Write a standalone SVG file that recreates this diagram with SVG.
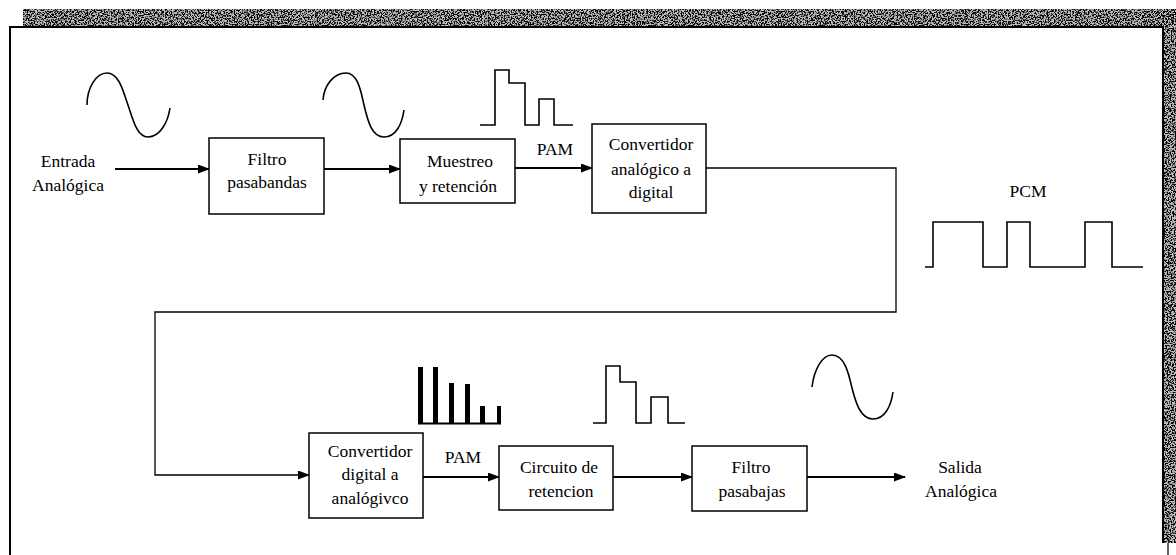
<svg xmlns="http://www.w3.org/2000/svg" width="1176" height="555" viewBox="0 0 1176 555" font-family="Liberation Serif, Times New Roman, serif">
<style>
.box{fill:#fff;stroke:#000;stroke-width:1.5}
.lbl{font-size:17.5px;fill:#000;text-anchor:middle}
.wire{fill:none;stroke:#000;stroke-width:2}
.thin{fill:none;stroke:#000;stroke-width:1.3}
.wave{fill:none;stroke:#000;stroke-width:1.6;stroke-linejoin:miter}
</style>
<defs>
<marker id="arr" markerUnits="userSpaceOnUse" markerWidth="12" markerHeight="10" refX="11" refY="4.5" orient="auto">
<path d="M0,0 L12,4.5 L0,9 z" fill="#000"/>
</marker>
<filter id="noise" x="0" y="0" width="100%" height="100%">
<feTurbulence type="fractalNoise" baseFrequency="0.7" numOctaves="2" seed="5" result="t"/>
<feColorMatrix in="t" type="matrix" values="0 0 0 0 0  0 0 0 0 0  0 0 0 0 0  0 0 0 -7 3.9" result="dots"/>
<feComposite in="dots" in2="SourceGraphic" operator="in"/>
</filter>
</defs>
<rect width="1176" height="555" fill="#fff"/>
<g id="frame">
<rect x="23" y="9" width="1153" height="17" fill="#bdbdbd"/>
<rect x="1163" y="9" width="13" height="534" fill="#bdbdbd"/>
<rect x="23" y="9" width="1153" height="17" fill="#111" filter="url(#noise)"/>
<rect x="1163" y="9" width="13" height="534" fill="#111" filter="url(#noise)"/>
<path d="M10,555 L10,27 L1163,27 L1163,543" fill="none" stroke="#000" stroke-width="2"/>
<path d="M1168,543 L1168,555" fill="none" stroke="#000" stroke-width="1.2"/>
</g>
<g id="connectors">
<line class="wire" x1="115" y1="169" x2="209" y2="169" marker-end="url(#arr)"/>
<line class="wire" x1="324" y1="169" x2="400" y2="169" marker-end="url(#arr)"/>
<line class="wire" x1="515" y1="168" x2="592" y2="168" marker-end="url(#arr)"/>
<path class="thin" d="M706,168 L896,168 L896,312 L155,312 L155,475 L309,475" marker-end="url(#arr)"/>
<line class="wire" x1="423" y1="477" x2="499" y2="477" marker-end="url(#arr)"/>
<line class="wire" x1="613" y1="477" x2="692" y2="477" marker-end="url(#arr)"/>
<line class="wire" x1="807" y1="477" x2="905" y2="477" marker-end="url(#arr)"/>
</g>
<g id="entrada">
<text class="lbl" x="68" y="167">Entrada</text>
<text class="lbl" x="68" y="191">Analógica</text>
</g>
<g id="filtro-pasabandas">
<rect class="box" x="209" y="138" width="115" height="76"/>
<text class="lbl" x="267" y="165">Filtro</text>
<text class="lbl" x="267" y="188">pasabandas</text>
</g>
<g id="muestreo">
<rect class="box" x="400" y="139" width="115" height="64"/>
<text class="lbl" x="460" y="167">Muestreo</text>
<text class="lbl" x="458" y="192">y  retención</text>
</g>
<g id="adc">
<rect class="box" x="592" y="124" width="114" height="89"/>
<text class="lbl" x="651" y="150">Convertidor</text>
<text class="lbl" x="651" y="175">analógico a</text>
<text class="lbl" x="651" y="198">digital</text>
</g>
<g id="dac">
<rect class="box" x="309" y="433" width="114" height="85"/>
<text class="lbl" x="370" y="457">Convertidor</text>
<text class="lbl" x="370" y="480">digital a</text>
<text class="lbl" x="370" y="504">analógivco</text>
</g>
<g id="circuito">
<rect class="box" x="499" y="446" width="114" height="64"/>
<text class="lbl" x="559" y="473">Circuito de</text>
<text class="lbl" x="561" y="497">retencion</text>
</g>
<g id="filtro-pasabajas">
<rect class="box" x="692" y="446" width="115" height="65"/>
<text class="lbl" x="751" y="473">Filtro</text>
<text class="lbl" x="752" y="497">pasabajas</text>
</g>
<g id="salida">
<text class="lbl" x="960" y="473">Salida</text>
<text class="lbl" x="961" y="497">Analógica</text>
</g>
<g id="labels">
<text class="lbl" x="555" y="155">PAM</text>
<text class="lbl" x="463" y="463">PAM</text>
<text class="lbl" x="1028" y="197">PCM</text>
</g>
<g id="waveforms">
<path class="wave" d="M87,105 C87,88 96,73 107,73 C120,73 124,95 128,105 C133,120 137,137 148,137 C160,137 168,122 170,108"/>
<path class="wave" d="M323,100 C324,85 334,73 346,73 C358,73 361,92 364,105 C368,122 372,137 384,137 C396,137 402,124 404,110"/>
<path class="wave" d="M812,387 C814,370 822,355 832,355 C845,355 849,375 852,388 C856,404 861,419 873,419 C885,419 891,406 893,392"/>
<path class="wave" d="M480,125 L495,125 L495,70 L509,70 L509,83 L525,83 L525,125 L539,125 L539,99 L554,99 L554,125 L573,125"/>
<path class="wave" d="M593,423 L606,423 L606,366 L620,366 L620,382 L636,382 L636,423 L651,423 L651,397 L668,397 L668,423 L685,423"/>
<path class="wave" d="M925,267 L933,267 L933,222 L983,222 L983,267 L1007,267 L1007,222 L1030,222 L1030,267 L1085,267 L1085,222 L1112,222 L1112,267 L1143,267"/>
<g fill="#000">
<rect x="418" y="367" width="5" height="57"/>
<rect x="433" y="367" width="5" height="57"/>
<rect x="449" y="383" width="5" height="41"/>
<rect x="465" y="384" width="5" height="40"/>
<rect x="480" y="406" width="5" height="18"/>
<rect x="497" y="406" width="4" height="18"/>
</g>
<line x1="418" y1="423.5" x2="501" y2="423.5" stroke="#000" stroke-width="2"/>
</g>
</svg>
